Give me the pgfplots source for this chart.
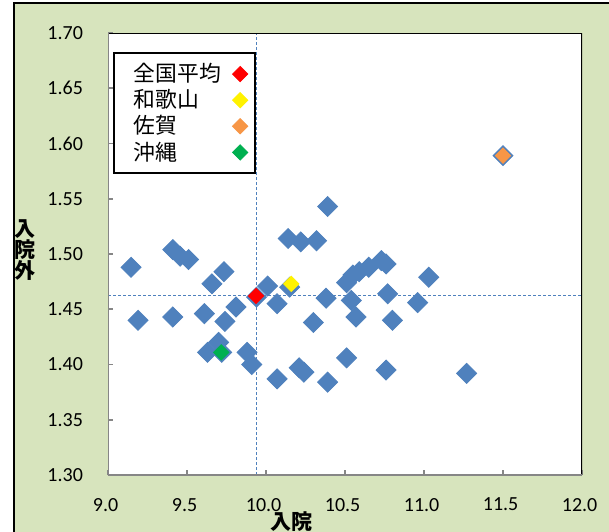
\documentclass[border=0pt]{standalone}
\usepackage{pgfplots}
\pgfplotsset{compat=1.18}
\usepackage{fontspec}
\setmainfont{Carlito}
\newfontfamily\cjk{Noto Sans CJK JP}

\definecolor{bluept}{RGB}{79,129,189}
\definecolor{chartbg}{RGB}{215,228,189}
\definecolor{orangept}{RGB}{247,150,70}
\definecolor{greenpt}{RGB}{0,176,80}
\definecolor{axisgray}{RGB}{134,134,134}

\begin{document}
\begin{tikzpicture}
\useasboundingbox (0,0) rectangle (304.5pt,265.5pt);
\fill[white] (0,0) rectangle (304.5pt,265.5pt);
\filldraw[fill=chartbg, draw=black, line width=0.8pt] (7pt,-20pt) rectangle (330pt,264pt);
\begin{axis}[
  at={(54pt,28pt)}, anchor=south west,
  scale only axis, width=237pt, height=221pt,
  xmin=9, xmax=12, ymin=1.3, ymax=1.7,
  xtick={9,9.5,10,10.5,11,11.5,12},
  ytick={1.30,1.35,1.40,1.45,1.50,1.55,1.60,1.65,1.70},
  scaled ticks=false,
  axis line style={draw=none},
  axis background/.style={fill=white},
  tick align=inside, xtick pos=lower, ytick pos=left,
  major tick length=2.5pt,
  tick style={axisgray, line width=0.8pt},
  /pgf/number format/assume math mode=true,
  ticklabel style={font=\fontsize{10}{12}\selectfont},
  xticklabel style={/pgf/number format/fixed, /pgf/number format/fixed zerofill,
    /pgf/number format/precision=1, yshift=-8pt, xshift=-1.2pt},
  yticklabel style={/pgf/number format/fixed, /pgf/number format/fixed zerofill,
    /pgf/number format/precision=2, xshift=-9pt},
  xlabel={入院},
  xlabel style={font=\cjk\bfseries\fontsize{10.5}{12}\selectfont,
    at={(axis description cs:0.3875,-0.106)}, anchor=center},
  ylabel={入\\院\\外},
  ylabel style={font=\cjk\bfseries\fontsize{10.5}{10.5}\selectfont, align=center,
    rotate=-90, at={(axis description cs:-0.175,0.509)}, anchor=center},
  legend style={at={(axis description cs:0.0105,0.957)}, anchor=north west,
    draw=black, line width=1pt, fill=white,
    font=\cjk\fontsize{10.9}{12}\selectfont,
    inner xsep=3.75pt, inner ysep=4pt, nodes={inner ysep=1.2pt, inner xsep=0pt}},
  legend plot pos=right,
  legend cell align=left,
  legend image code/.code={\path (0pt,0pt) (9pt,0pt);
    \draw[mark repeat=1, line width=0.4pt, #1] plot coordinates {(9pt,0pt)};},
]
% mean lines
\addplot[forget plot, bluept, line width=0.5pt, dash pattern=on 1.5pt off 1pt]
  coordinates {(9.94,1.30) (9.94,1.70)};
\addplot[forget plot, bluept, line width=0.5pt, dash pattern=on 1.5pt off 1pt]
  coordinates {(9.00,1.462) (12.00,1.462)};

% prefectures
\addplot[forget plot, only marks, mark=square*, mark size=3.54pt,
  mark options={rotate=45, fill=bluept, draw=bluept}] coordinates {
  (9.146,1.488) (9.19,1.440) (9.41,1.504) (9.456,1.498) (9.51,1.495)
  (9.734,1.484) (9.658,1.473) (9.41,1.443) (9.61,1.446) (9.81,1.452)
  (9.74,1.439) (9.70,1.420) (9.63,1.411) (9.72,1.411) (9.88,1.411)
  (9.91,1.400) (10.07,1.387) (10.21,1.397) (10.24,1.393) (10.39,1.384)
  (10.39,1.543) (10.14,1.514) (10.22,1.511) (10.32,1.512) (10.15,1.470)
  (10.01,1.471) (10.07,1.455) (10.38,1.460) (10.30,1.438) (10.51,1.474)
  (10.55,1.481) (10.59,1.484) (10.65,1.488) (10.73,1.494) (10.76,1.491)
  (11.03,1.479) (10.54,1.458) (10.77,1.464) (10.96,1.456) (10.57,1.443)
  (10.80,1.440) (10.51,1.406) (10.76,1.395) (11.27,1.392) (11.50,1.589)
  (9.94,1.461)
};

\addplot[only marks, mark=square*, mark size=2.7pt,
  mark options={rotate=45, fill=red, draw=red}] coordinates {(9.937,1.462)};
\addlegendentry{\hspace{6.25pt}全国平均}
\addplot[only marks, mark=square*, mark size=2.7pt,
  mark options={rotate=45, fill=yellow, draw=yellow}] coordinates {(10.16,1.473)};
\addlegendentry{\hspace{6.25pt}和歌山}
\addplot[only marks, mark=square*, mark size=2.7pt,
  mark options={rotate=45, fill=orangept, draw=orangept}] coordinates {(11.50,1.589)};
\addlegendentry{\hspace{6.25pt}佐賀}
\addplot[only marks, mark=square*, mark size=2.7pt,
  mark options={rotate=45, fill=greenpt, draw=greenpt}] coordinates {(9.717,1.411)};
\addlegendentry{\hspace{6.25pt}沖縄}

\draw[black, line width=1pt] (rel axis cs:0,1) -- (rel axis cs:1,1) -- (rel axis cs:1,0);
\draw[axisgray, line width=1pt] (rel axis cs:0,1) -- (rel axis cs:0,0) -- (rel axis cs:1,0);
\end{axis}
\end{tikzpicture}
\end{document}
